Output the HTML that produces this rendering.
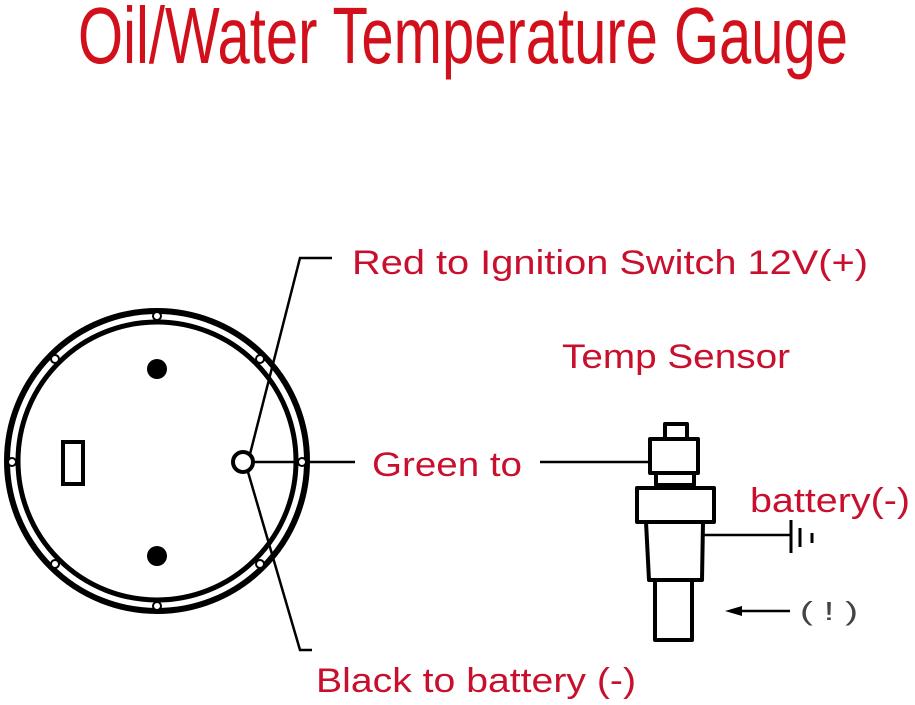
<!DOCTYPE html>
<html><head><meta charset="utf-8"><style>html,body{margin:0;padding:0;background:#fff}svg{display:block}</style></head>
<body>
<svg width="915" height="705" viewBox="0 0 915 705" xmlns="http://www.w3.org/2000/svg">
<g font-family="Liberation Sans, sans-serif">
<text x="78" y="63" font-size="80" fill="#d2101c" textLength="770" lengthAdjust="spacingAndGlyphs">Oil/Water Temperature Gauge</text>
<g fill="#c8102e" font-size="34">
<text x="352" y="274" textLength="516" lengthAdjust="spacingAndGlyphs">Red to Ignition Switch 12V(+)</text>
<text x="562" y="368" textLength="228" lengthAdjust="spacingAndGlyphs">Temp Sensor</text>
<text x="372" y="476" textLength="150" lengthAdjust="spacingAndGlyphs">Green to</text>
<text x="750" y="512" textLength="160" lengthAdjust="spacingAndGlyphs">battery(-)</text>
<text x="316" y="692" textLength="320" lengthAdjust="spacingAndGlyphs">Black to battery (-)</text>
</g>
</g>
<g fill="none" stroke="#000">
<circle cx="157" cy="461" r="150" stroke-width="6"/>
<circle cx="157" cy="461" r="139" stroke-width="5"/>
<circle cx="243" cy="462" r="10" stroke-width="4" fill="#fff"/>
<rect x="63" y="442" width="20" height="42" stroke-width="4"/>
<g stroke-width="2.5">
<polyline points="250,454 300,258 332,258"/>
<polyline points="248,472 300,650 312,650"/>
<line x1="253" y1="462" x2="355" y2="462"/>
<line x1="540" y1="462" x2="648" y2="462"/>
<line x1="703" y1="535" x2="790" y2="535"/>
<line x1="740" y1="611" x2="790" y2="611"/>
</g>
<g stroke-width="4" stroke-linejoin="round">
<rect x="665" y="424" width="22" height="15"/>
<rect x="650" y="439" width="48" height="34"/>
<rect x="656" y="473" width="38" height="12"/>
<rect x="637" y="488" width="77" height="34"/>
<polygon points="646,522 703,522 702,580 649,580"/>
<rect x="655" y="580" width="37" height="60"/>
</g>
<g stroke-width="3">
<line x1="791" y1="520" x2="791" y2="553"/>
<line x1="800" y1="528" x2="800" y2="547"/>
<line x1="812" y1="533" x2="812" y2="543"/>
</g>
</g>
<polygon points="725,611 742,606 742,616" fill="#000"/>
<g fill="#000">
<circle cx="157" cy="369" r="10"/>
<circle cx="157" cy="556" r="10"/>
</g>
<g fill="#fff" stroke="#000" stroke-width="2">
<circle cx="157" cy="316" r="4"/><circle cx="157" cy="606" r="4"/>
<circle cx="12" cy="462" r="4"/><circle cx="302" cy="462" r="4"/>
<circle cx="55" cy="359" r="4"/><circle cx="260" cy="359" r="4"/>
<circle cx="55" cy="564" r="4"/><circle cx="260" cy="564" r="4"/>
</g>
<text x="800" y="620" font-family="Liberation Sans, sans-serif" font-size="26" fill="#444" textLength="58" lengthAdjust="spacingAndGlyphs">( ! )</text>
</svg>
</body></html>
